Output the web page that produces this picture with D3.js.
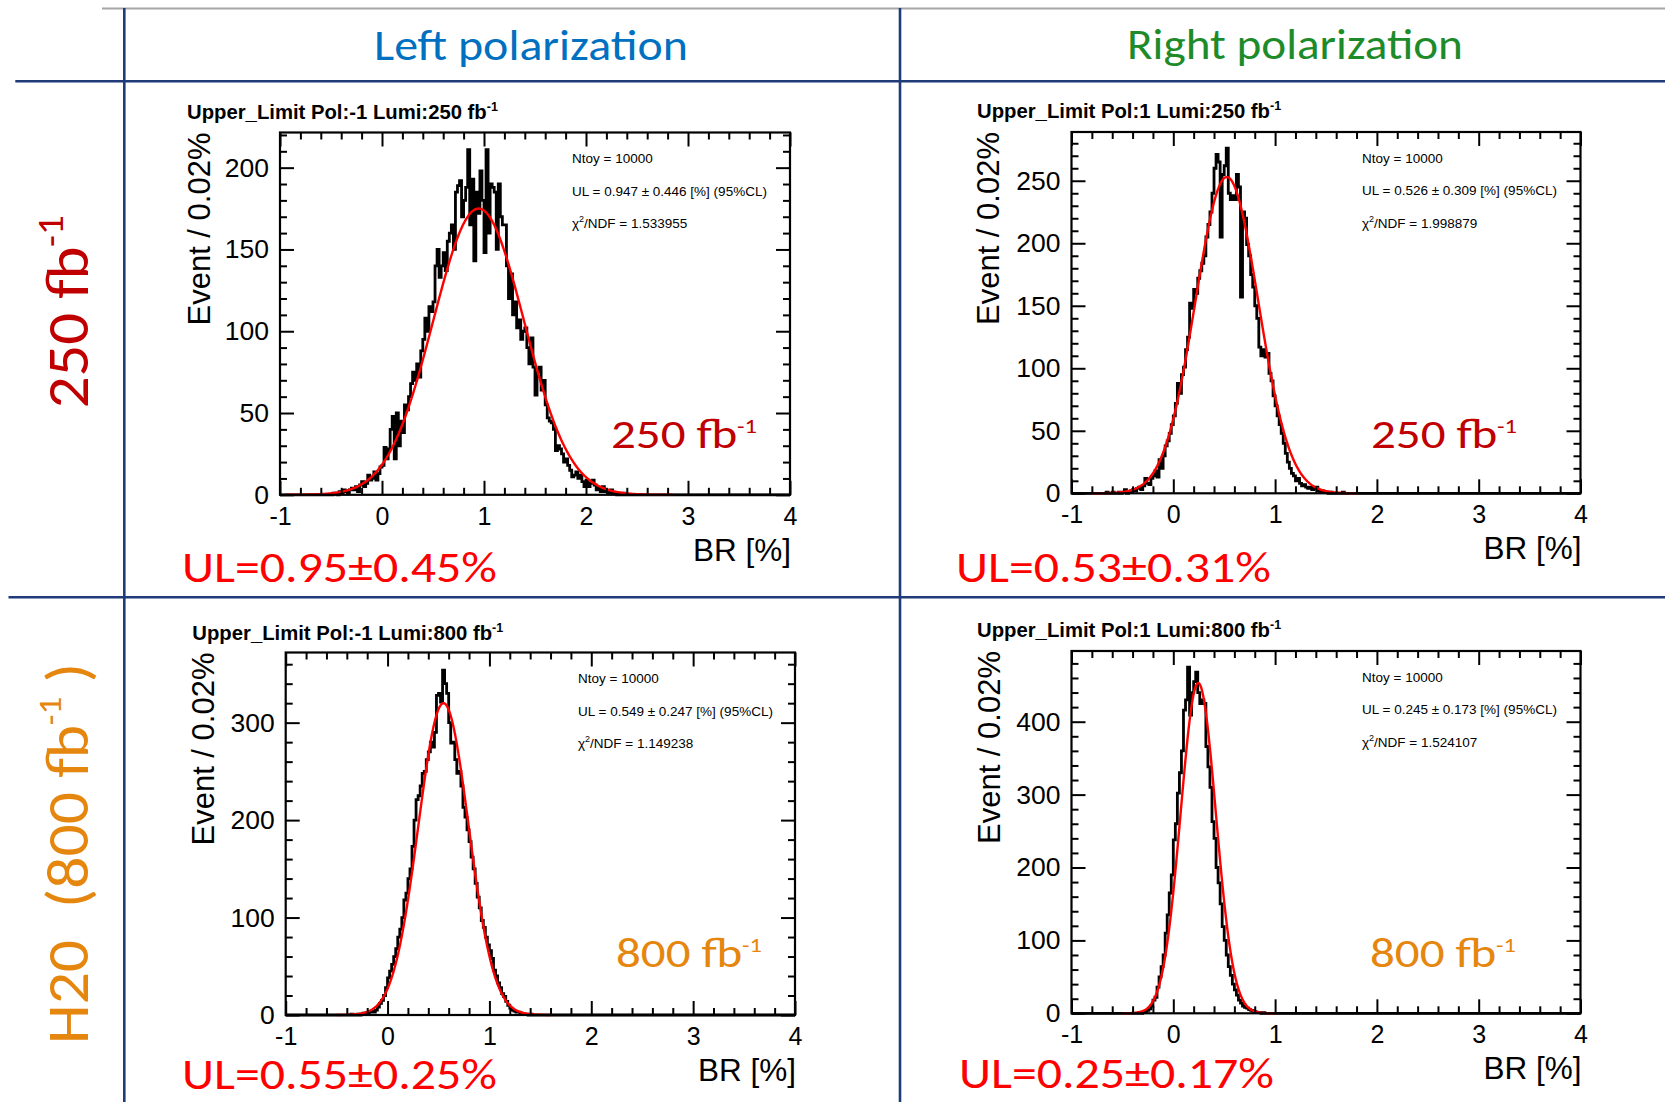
<!DOCTYPE html>
<html><head><meta charset="utf-8">
<script src="https://cdn.jsdelivr.net/npm/d3@7/dist/d3.min.js"></script>
<style>html,body{margin:0;padding:0;background:#fff;} svg{display:block;}</style>
</head><body>
<svg id="chart" width="1665" height="1102"></svg>
<script>
// ---------------- DATA ----------------
const columnHeaders = ["Left polarization", "Right polarization"];
const rowHeaders = [
  [{t:"250 fb"}, {t:"-1", sup:true}],
  [{t:"H20\u2002(800 fb"}, {t:"-1", sup:true}, {t:" )"}]
];
const plotTitles = ["Upper_Limit Pol:-1 Lumi:250 fb", "Upper_Limit Pol:1 Lumi:250 fb",
                    "Upper_Limit Pol:-1 Lumi:800 fb", "Upper_Limit Pol:1 Lumi:800 fb"];
const ntoyText = ["Ntoy = 10000", "Ntoy = 10000", "Ntoy = 10000", "Ntoy = 10000"];
const ulStatText = ["UL = 0.947 \u00b1 0.446 [%] (95%CL)", "UL = 0.526 \u00b1 0.309 [%] (95%CL)",
                    "UL = 0.549 \u00b1 0.247 [%] (95%CL)", "UL = 0.245 \u00b1 0.173 [%] (95%CL)"];
const chi2Text = ["1.533955", "1.998879", "1.149238", "1.524107"];
const lumiLabels = ["250 fb", "250 fb", "800 fb", "800 fb"];
const ulSummary = ["UL=0.95\u00b10.45%", "UL=0.53\u00b10.31%", "UL=0.55\u00b10.25%", "UL=0.25\u00b10.17%"];
const xAxisTitle = "BR [%]";
const yAxisTitle = "Event / 0.02%";

const xDomain = [-1, 4];
const xTicks = [-1, 0, 1, 2, 3, 4];
const binWidth = 0.02;
const yMax = [221.5, 289, 372, 497];
const yMajorStep = [50, 50, 100, 100];
const yMinorStep = [10, 10, 20, 20];

// histogram contents (first bin low edge, then counts per 0.02 bin)
const binLow = [-0.5, -0.7, -0.4, -0.4];
const countsL250 = [
  0,1,1,0,2, 1,3,2,1,3, 4,3,5,2,6, 8,5,7,12,9, 10,14,9,13,17,
  18,29,22,28,40, 48,22,50,30,45, 38,55,52,60,68, 75,70,80,72,88, 95,108,100,115,112,
  118,140,150,133,140, 148,137,155,160,165, 150,185,189,192,170, 180,188,211,165,193, 143,185,172,198,180,
  148,211,160,190,188, 185,150,190,170,165, 165,140,120,135,110, 118,102,107,95,100, 102,90,80,96,78,
  61,75,78,64,70, 55,47,45,44,40, 27,30,28,25,20, 22,18,15,11,12, 14,10,12,8,5,
  9,5,7,9,6, 3,4,2,5,2, 2,1,3,1,1, 0,1,0,1,0
];
const countsR250 = [
  0,0,1,0,0, 1,0,0,1,0, 1,3,0,1,2, 3,2,4,5,3, 6,12,8,7,12,
  14,18,13,27,20, 30,38,42,48,55, 62,72,88,80,95, 101,115,125,152,148, 163,160,172,178,184,
  190,205,215,225,240, 260,271,265,205,255, 262,276,240,235,238, 235,255,245,157,225, 220,199,190,175,165,
  150,140,117,110,115, 109,112,96,90,78, 70,62,55,48,40, 32,25,20,16,14, 10,12,8,6,7,
  5,4,5,3,4, 5,2,1,2,1, 1,0,1,0,0, 0,0,0,1,0
];
const countsL800 = [
  0,0,1,0,0, 1,0,1,2,1, 2,3,4,3,5, 8,12,15,20,28,
  38,45,52,60,68, 80,88,100,118,125, 140,150,173,200,221, 225,235,248,250,262, 270,280,275,290,328,
  330,321,354,340,330, 300,279,280,262,248, 250,235,213,203,190, 178,162,150,135,121, 110,97,90,80,72,
  66,58,46,40,33, 28,22,19,14,10, 7,5,4,3,3, 2,1,1,1,0, 1,0,0,0,0
];
const countsR800 = [
  0,0,0,1,0, 1,2,4,6,10, 18,22,36,50,64, 80,110,135,165,190,
  238,260,302,330,360, 416,430,475,409,440, 455,468,440,425,430, 425,366,338,310,263,
  240,200,179,150,119, 100,80,64,52,40, 32,25,18,14,10, 8,7,5,4,3, 2,1,1,0,1, 0,0,0,0,0
];
const allCounts = [countsL250, countsR250, countsL800, countsR800];

// Gaussian fit parameters (peak height, mean, sigma) and fit range
const fitPeak = [175, 253, 320, 453];
const fitMean = [0.947, 0.526, 0.549, 0.245];
const fitSigma = [0.446, 0.309, 0.247, 0.173];
const fitRange = [[-0.95, 2.85], [-0.8, 1.8], [-0.5, 1.6], [-0.5, 1.0]];

// ---------------- LAYOUT / STYLE ----------------
const W = 1665, H = 1102;
const CAL = "Calibri, Carlito, Lato, 'Open Sans', sans-serif";
const ARIAL = "Arial, 'Liberation Sans', Helvetica, sans-serif";
const NAVY = "#1f3b7a";
const DARKRED = "#c00000", ORANGE = "#e5860f", BRIGHTRED = "#ff0000";
const headerColors = ["#0070c0", "#1e8b2a"];
const lumiColors = [DARKRED, DARKRED, ORANGE, ORANGE];

const panels = [
  {x0:280,    x1:790,    y0:132.5, y1:494.8,  tx:187,   ty:119.3, sx:572,  lx:611,  ly:448.3, ux:182, uy:582,  ex:210},
  {x0:1071.5, x1:1580.5, y0:132,   y1:493.3,  tx:977,   ty:118.3, sx:1362, lx:1371, ly:448.3, ux:956, uy:582,  ex:999},
  {x0:285.7,  x1:795,    y0:652.5, y1:1015,   tx:192.3, ty:640,   sx:578,  lx:616,  ly:966.7, ux:182, uy:1089, ex:214},
  {x0:1071.5, x1:1580.5, y0:651,   y1:1013.3, tx:977,   ty:636.7, sx:1362, lx:1370, ly:966.7, ux:959, uy:1088, ex:1000}
];

const svg = d3.select("#chart");
svg.append("rect").attr("width", W).attr("height", H).attr("fill", "#fff");

// table lines
svg.append("line").attr("x1",102).attr("x2",W).attr("y1",8.5).attr("y2",8.5)
   .attr("stroke","#a6a6a6").attr("stroke-width",2);
[[124.3, 8, 124.3, H], [900, 8, 900, H], [15.3, 81.3, W, 81.3], [8.5, 597.3, W, 597.3]].forEach(l => {
  svg.append("line").attr("x1",l[0]).attr("y1",l[1]).attr("x2",l[2]).attr("y2",l[3])
     .attr("stroke",NAVY).attr("stroke-width",2.6);
});

// Calibri-like text, horizontally fitted to a target width
function calText(parts, o) {
  const g = svg.append("g");
  const t = g.append("text").attr("font-family", CAL).attr("font-size", o.size).attr("fill", o.color);
  let raised = 0;
  parts.forEach(p => {
    const ts = t.append("tspan").text(p.t);
    if (p.sup) { ts.attr("font-size", o.size * (o.supScale || 0.55)); raised = o.size * (o.supRaise || 0.38); ts.attr("dy", -raised); }
    else if (raised) { ts.attr("dy", raised); raised = 0; }
  });
  const bb = t.node().getBBox();
  const sx = o.width ? o.width / bb.width : 1;
  t.attr("x", -bb.x);
  g.attr("transform", `translate(${o.x},${o.y}) rotate(${o.rot || 0}) scale(${sx},1)`);
  return g;
}

// column headers
calText([{t:columnHeaders[0]}], {x:374, y:60, size:43, color:headerColors[0], width:314});
calText([{t:columnHeaders[1]}], {x:1127, y:58.5, size:43, color:headerColors[1], width:336});
// row headers (rotated)
calText(rowHeaders[0], {x:88.3, y:408.3, size:60, color:DARKRED, width:193, rot:-90, supScale:0.62, supRaise:0.43});
calText(rowHeaders[1], {x:88, y:1044, size:60, color:ORANGE, width:381, rot:-90, supScale:0.55, supRaise:0.45});

// ---------------- PANELS ----------------
panels.forEach((P, i) => {
  const g = svg.append("g");
  const x = d3.scaleLinear().domain(xDomain).range([P.x0, P.x1]);
  const y = d3.scaleLinear().domain([0, yMax[i]]).range([P.y1, P.y0]);

  // full histogram over the axis range
  const nb = Math.round((xDomain[1] - xDomain[0]) / binWidth);
  const full = new Array(nb).fill(0);
  const off = Math.round((binLow[i] - xDomain[0]) / binWidth);
  allCounts[i].forEach((c, k) => { full[off + k] = c; });
  const pts = full.map((c, k) => [xDomain[0] + k * binWidth, c]);
  pts.push([xDomain[1], full[nb - 1]]);
  g.append("path").datum(pts)
    .attr("d", d3.line().x(d => x(d[0])).y(d => y(d[1])).curve(d3.curveStepAfter))
    .attr("fill", "none").attr("stroke", "#000").attr("stroke-width", 2.8).attr("stroke-linejoin", "miter");

  // Gaussian fit curve
  const fr = fitRange[i], n = 400;
  const fpts = d3.range(n + 1).map(k => {
    const xv = fr[0] + k * (fr[1] - fr[0]) / n;
    return [xv, fitPeak[i] * Math.exp(-0.5 * Math.pow((xv - fitMean[i]) / fitSigma[i], 2))];
  });
  g.append("path").datum(fpts)
    .attr("d", d3.line().x(d => x(d[0])).y(d => y(d[1])).curve(d3.curveLinear))
    .attr("fill", "none").attr("stroke", "#ff0000").attr("stroke-width", 2.4);

  // axes (ticks inward on all four sides)
  const minorX = d3.range(xDomain[0], xDomain[1] + 1e-9, 0.2).filter(v => Math.abs(v - Math.round(v)) > 1e-6);
  const majorY = d3.range(0, yMax[i], yMajorStep[i]);
  const minorY = d3.range(0, yMax[i], yMinorStep[i]).filter(v => v % yMajorStep[i] !== 0);
  function ax(gen, tx, ty, values, size, labelled, fontSize, pad) {
    const a = g.append("g").attr("transform", `translate(${tx},${ty})`)
      .call(gen.tickValues(values).tickSize(size).tickPadding(pad || 3)
        .tickFormat(labelled ? (d => String(d)) : () => ""));
    a.select(".domain").remove();
    a.selectAll("line").attr("stroke", "#000").attr("stroke-width", 2);
    a.attr("font-family", ARIAL).attr("font-size", fontSize || 10);
    a.selectAll("text").attr("fill", "#000");
    return a;
  }
  ax(d3.axisBottom(x), 0, P.y1, xTicks, -14, true, 25, 12);
  ax(d3.axisBottom(x), 0, P.y1, minorX, -7, false);
  ax(d3.axisTop(x), 0, P.y0, xTicks, -14, false);
  ax(d3.axisTop(x), 0, P.y0, minorX, -7, false);
  ax(d3.axisLeft(y), P.x0, 0, majorY, -14, true, 26.5, 11);
  ax(d3.axisLeft(y), P.x0, 0, minorY, -7, false);
  ax(d3.axisRight(y), P.x1, 0, majorY, -14, false);
  ax(d3.axisRight(y), P.x1, 0, minorY, -7, false);

  g.append("rect").attr("x", P.x0).attr("y", P.y0).attr("width", P.x1 - P.x0).attr("height", P.y1 - P.y0)
    .attr("fill", "none").attr("stroke", "#000").attr("stroke-width", 2.2);

  // plot title
  const tt = g.append("text").attr("x", P.tx).attr("y", P.ty).attr("font-family", ARIAL)
    .attr("font-weight", "bold").attr("font-size", 20.3).attr("fill", "#000");
  tt.append("tspan").text(plotTitles[i]);
  tt.append("tspan").text("-1").attr("font-size", 12.5).attr("dy", -8);

  // stats text
  const st = g.append("g").attr("font-family", ARIAL).attr("font-size", 13.5).attr("fill", "#000");
  st.append("text").attr("x", P.sx).attr("y", P.y0 + 30.5).text(ntoyText[i]);
  st.append("text").attr("x", P.sx).attr("y", P.y0 + 63).text(ulStatText[i]);
  const ct = st.append("text").attr("x", P.sx).attr("y", P.y0 + 95.5);
  ct.append("tspan").text("\u03c7");
  ct.append("tspan").text("2").attr("font-size", 9).attr("dy", -6);
  ct.append("tspan").text("/NDF = " + chi2Text[i]).attr("dy", 6);

  // axis titles
  g.append("text").attr("x", P.x1 + 1).attr("y", P.y1 + 66).attr("text-anchor", "end")
    .attr("font-family", ARIAL).attr("font-size", 31.5).attr("fill", "#000").text(xAxisTitle);
  g.append("text").attr("transform", `translate(${P.ex},${P.y0}) rotate(-90)`).attr("text-anchor", "end")
    .attr("font-family", ARIAL).attr("font-size", 31).attr("fill", "#000").text(yAxisTitle);

  // luminosity label inside the plot and UL summary below
  calText([{t:lumiLabels[i]}, {t:"-1", sup:true}], {x:P.lx, y:P.ly, size:42, color:lumiColors[i], width:146, supScale:0.5, supRaise:0.36});
  calText([{t:ulSummary[i]}], {x:P.ux, y:P.uy, size:44, color:BRIGHTRED, width:315});
});
</script>
</body></html>
